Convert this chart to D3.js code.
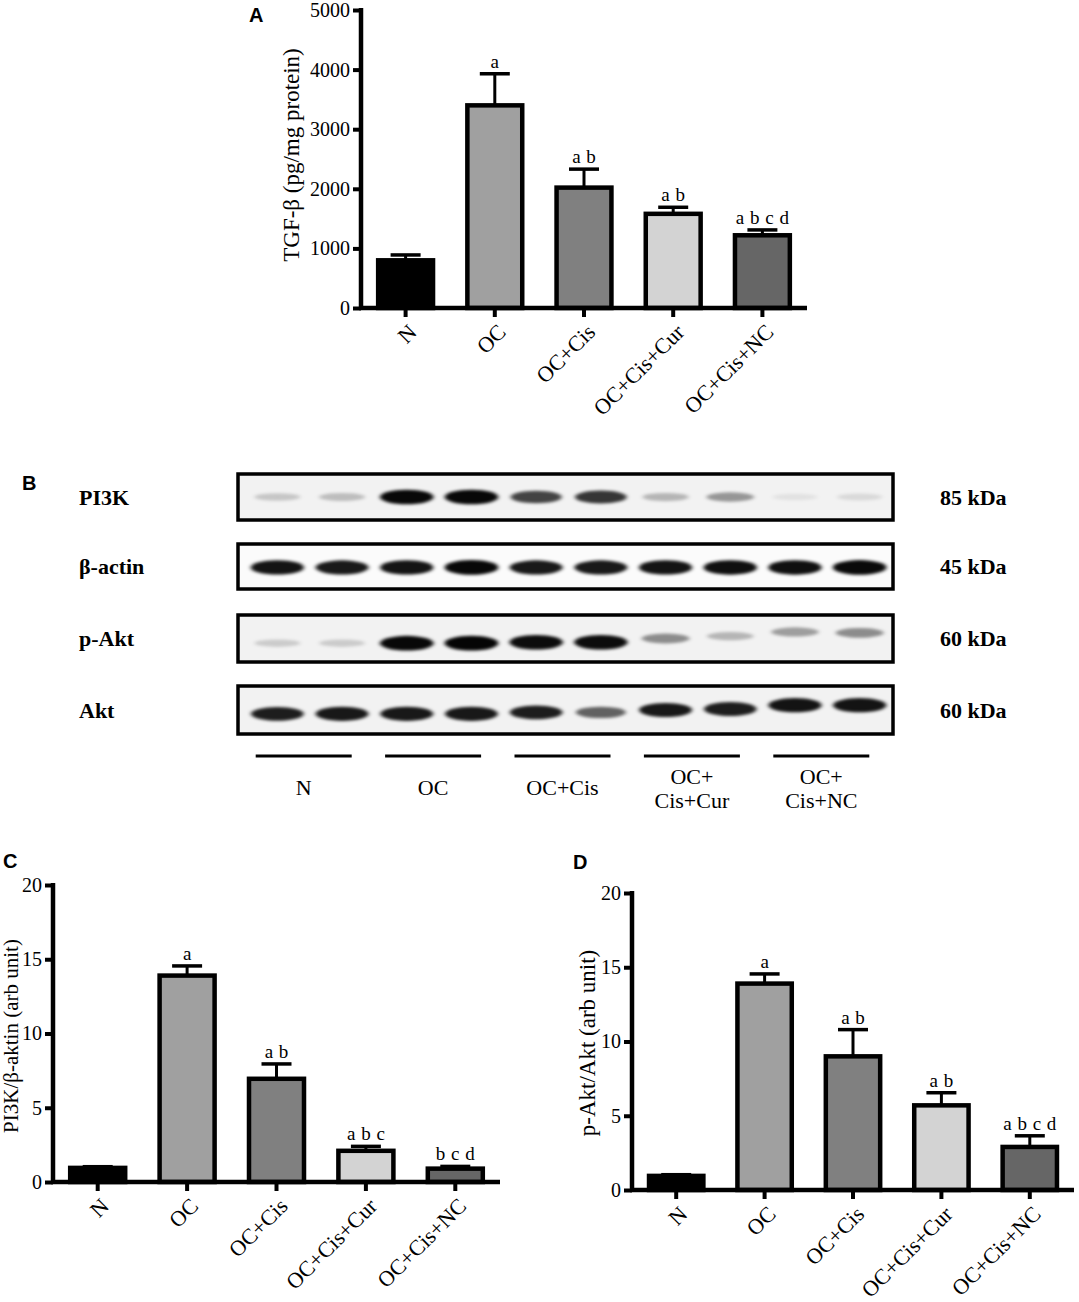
<!DOCTYPE html>
<html>
<head>
<meta charset="utf-8">
<script src="https://cdn.jsdelivr.net/npm/d3@7/dist/d3.min.js"></script>
<style>
  html, body { margin: 0; padding: 0; background: #fff; }
  svg { display: block; }
  text { font-family: "Liberation Serif", "Times New Roman", serif; fill: #000; }
  .panel { font-family: "Liberation Sans", Arial, sans-serif; font-weight: bold; font-size: 20px; }
</style>
</head>
<body>
<svg id="fig" width="1079" height="1302"></svg>
<script>
// ---------------- DATA ----------------
const groups = ["N", "OC", "OC+Cis", "OC+Cis+Cur", "OC+Cis+NC"];
const barColors = ["#000000", "#a0a0a0", "#808080", "#d3d3d3", "#666666"];

// Panel A: TGF-β (pg/mg protein)
const tgfMean = [800, 3400, 2020, 1580, 1220];
const tgfSem  = [90, 530, 310, 110, 90];
const tgfLetters = ["", "a", "a b", "a b", "a b c d"];
const tgfTicks = [0, 1000, 2000, 3000, 4000, 5000];

// Panel C: PI3K/β-aktin (arb unit)
const pi3kMean = [0.95, 13.9, 6.95, 2.1, 0.9];
const pi3kSem  = [0.08, 0.65, 1.0, 0.3, 0.15];
const pi3kLetters = ["", "a", "a b", "a b c", "b c d"];

// Panel D: p-Akt/Akt (arb unit)
const paktMean = [0.95, 13.9, 9.0, 5.7, 2.9];
const paktSem  = [0.08, 0.65, 1.8, 0.85, 0.75];
const paktLetters = ["", "a", "a b", "a b", "a b c d"];
const ratioTicks = [0, 5, 10, 15, 20];

// Panel B: western blot (band darkness 0..1 per lane, 10 lanes = 2 per group)
const blotRows = ["PI3K", "β-actin", "p-Akt", "Akt"];
const blotKDa = ["85 kDa", "45 kDa", "60 kDa", "60 kDa"];
const lanes = d3.range(10);
const pi3kBands  = [0.18, 0.22, 0.97, 0.97, 0.72, 0.78, 0.25, 0.38, 0.07, 0.1];
const actinBands = [0.92, 0.9, 0.92, 0.97, 0.9, 0.9, 0.92, 0.94, 0.94, 0.96];
const paktBands  = [0.16, 0.16, 0.97, 0.98, 0.95, 0.95, 0.42, 0.25, 0.35, 0.42];
const aktBands   = [0.88, 0.9, 0.9, 0.9, 0.88, 0.6, 0.9, 0.88, 0.92, 0.92];
const bandRowValues = [pi3kBands, actinBands, paktBands, aktBands];
// relative migration shift of bands (fraction of box height, negative = up)
const paktShift = [0.1, 0.1, 0.1, 0.1, 0.08, 0.08, 0.0, -0.05, -0.14, -0.12];
const aktShift  = [0.08, 0.08, 0.08, 0.08, 0.05, 0.05, 0.0, -0.02, -0.1, -0.1];
const bandShifts = [lanes.map(() => 0), lanes.map(() => 0.02), paktShift, aktShift];
const blotGroupLabels = [["N"], ["OC"], ["OC+Cis"], ["OC+", "Cis+Cur"], ["OC+", "Cis+NC"]];

// ---------------- DRAW ----------------
const svg = d3.select("#fig");

function barPanel(o) {
  const g = svg.append("g");
  const x = d3.scaleBand().domain(groups).range([o.x0, o.x1]).paddingInner(0.34).paddingOuter(0.17);
  const y = d3.scaleLinear().domain([0, o.ymax]).range([o.yBottom, o.yTop]);

  const data = groups.map((gname, i) => ({ g: gname, m: o.mean[i], e: o.sem[i], c: barColors[i], l: o.letters[i] }));

  // bars
  g.selectAll("rect.bar").data(data).join("rect")
    .attr("class", "bar")
    .attr("x", d => x(d.g) + 2)
    .attr("width", x.bandwidth() - 4)
    .attr("y", d => y(d.m))
    .attr("height", d => y(0) - y(d.m))
    .attr("fill", d => d.c)
    .attr("stroke", "#000").attr("stroke-width", 4.5);

  // error bars (upper)
  const cx = d => x(d.g) + x.bandwidth() / 2;
  g.selectAll("line.err").data(data).join("line")
    .attr("x1", cx).attr("x2", cx)
    .attr("y1", d => y(d.m)).attr("y2", d => y(d.m + d.e))
    .attr("stroke", "#000").attr("stroke-width", 3);
  g.selectAll("line.cap").data(data).join("line")
    .attr("x1", d => cx(d) - 15).attr("x2", d => cx(d) + 15)
    .attr("y1", d => y(d.m + d.e)).attr("y2", d => y(d.m + d.e))
    .attr("stroke", "#000").attr("stroke-width", 3.5);
  g.selectAll("text.sig").data(data).join("text")
    .attr("x", cx).attr("y", d => y(d.m + d.e) - 6)
    .attr("text-anchor", "middle")
    .style("font-size", "19px").style("word-spacing", "1px")
    .text(d => d.l);

  // y axis
  const ya = g.append("g").attr("transform", `translate(${o.x0},0)`)
    .call(d3.axisLeft(y).tickValues(o.ticks).tickFormat(d3.format("d")).tickSize(8).tickSizeOuter(0).tickPadding(3));
  ya.select(".domain").attr("stroke-width", 4.5).attr("d", `M0,${o.yTop - 2}V${o.yBottom + 2}`);
  ya.selectAll(".tick line").attr("stroke-width", 4);
  ya.selectAll(".tick text").style("font-size", "20px").style("font-family", "Liberation Serif");

  // x axis
  const xa = g.append("g").attr("transform", `translate(0,${o.yBottom})`)
    .call(d3.axisBottom(x).tickSize(9).tickSizeOuter(0));
  xa.select(".domain").attr("stroke-width", 4.5).attr("d", `M${o.x0 - 2},0H${o.x1}`);
  xa.selectAll(".tick line").attr("stroke-width", 4);
  xa.selectAll(".tick text")
    .style("font-size", "22px").style("font-family", "Liberation Serif")
    .attr("text-anchor", "end")
    .attr("transform", "translate(7,20) rotate(-45)")
    .attr("dy", "0.35em").attr("y", 0).attr("x", 0);

  // y label
  g.append("text")
    .attr("transform", `translate(${o.labelX},${o.labelY}) rotate(-90)`)
    .attr("text-anchor", "middle").attr("dominant-baseline", "central")
    .style("font-size", o.labelSize + "px")
    .text(o.ylabel);

  g.append("text").attr("class", "panel").attr("x", o.panelX).attr("y", o.panelY).text(o.panel);
}

barPanel({ x0: 361, x1: 807, yTop: 10, yBottom: 308, ymax: 5000, ticks: tgfTicks,
  mean: tgfMean, sem: tgfSem, letters: tgfLetters,
  ylabel: "TGF-β (pg/mg protein)", labelX: 291, labelY: 155, labelSize: 23,
  panel: "A", panelX: 249, panelY: 22 });

barPanel({ x0: 53, x1: 500, yTop: 885, yBottom: 1182, ymax: 20, ticks: ratioTicks,
  mean: pi3kMean, sem: pi3kSem, letters: pi3kLetters,
  ylabel: "PI3K/β-aktin (arb unit)", labelX: 11, labelY: 1036, labelSize: 21,
  panel: "C", panelX: 3, panelY: 868 });

barPanel({ x0: 632, x1: 1074, yTop: 893, yBottom: 1190, ymax: 20, ticks: ratioTicks,
  mean: paktMean, sem: paktSem, letters: paktLetters,
  ylabel: "p-Akt/Akt (arb unit)", labelX: 587, labelY: 1043, labelSize: 23,
  panel: "D", panelX: 573, panelY: 869 });

// ---------- Panel B: blot ----------
const defs = svg.append("defs");
defs.append("filter").attr("id", "blur").attr("x", "-30%").attr("y", "-100%").attr("width", "160%").attr("height", "300%")
  .append("feGaussianBlur").attr("stdDeviation", "2.2 1.6");

svg.append("text").attr("class", "panel").attr("x", 22).attr("y", 490).text("B");

const laneX = d3.scaleBand().domain(lanes).range([245, 892]);
const rowTops = [474, 544, 615, 686];
const rowHeights = [46, 45, 47, 48];

blotRows.forEach((r, ri) => {
  const top = rowTops[ri], h = rowHeights[ri], cy = top + h / 2;
  const g = svg.append("g");
  g.append("rect").attr("x", 238).attr("y", top).attr("width", 655).attr("height", h)
    .attr("fill", ri === 1 ? "#fbfbfb" : "#f2f2f2").attr("stroke", "#000").attr("stroke-width", 3.5);
  const gb = g.append("g").attr("filter", "url(#blur)");
  gb.selectAll("ellipse").data(lanes).join("ellipse")
    .attr("cx", l => laneX(l) + laneX.bandwidth() / 2)
    .attr("cy", l => cy + bandShifts[ri][l] * h)
    .attr("rx", l => 22 + 5 * bandRowValues[ri][l])
    .attr("ry", l => 3 + 4.5 * bandRowValues[ri][l])
    .attr("fill", "#000")
    .attr("fill-opacity", l => bandRowValues[ri][l]);
  svg.append("text").attr("x", 79).attr("y", cy).attr("dominant-baseline", "central")
    .style("font-size", "22px").style("font-weight", "bold").text(r);
  svg.append("text").attr("x", 940).attr("y", cy).attr("dominant-baseline", "central")
    .style("font-size", "22px").style("font-weight", "bold").text(blotKDa[ri]);
});

// group lines + labels
groups.forEach((gname, gi) => {
  const c = (laneX(gi * 2) + laneX(gi * 2 + 1) + laneX.bandwidth()) / 2 - 6;
  svg.append("line").attr("x1", c - 48).attr("x2", c + 48).attr("y1", 756).attr("y2", 756)
    .attr("stroke", "#000").attr("stroke-width", 3);
  const lbl = blotGroupLabels[gi];
  lbl.forEach((t, ti) => {
    const yy = lbl.length === 1 ? 787 : 776 + ti * 24;
    svg.append("text").attr("x", c).attr("y", yy).attr("text-anchor", "middle")
      .attr("dominant-baseline", "central").style("font-size", "22px").text(t);
  });
});
</script>
</body>
</html>
